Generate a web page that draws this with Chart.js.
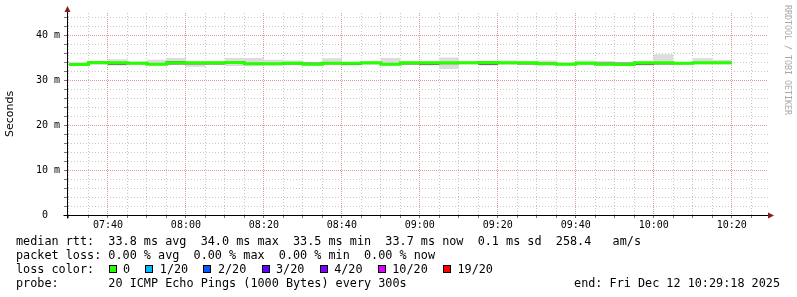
<!DOCTYPE html>
<html>
<head>
<meta charset="utf-8">
<title>smokeping</title>
<script src="https://cdn.jsdelivr.net/npm/chart.js@4.4.1/dist/chart.umd.min.js"></script>
<style>
  body { margin: 0; background: #fff; }
  #wrap { position: relative; width: 797px; height: 297px; overflow: hidden; }
  #chart { position: absolute; left: 0; top: 0; }
  .txt {
    position: absolute;
    font-family: "DejaVu Sans Mono", monospace;
    font-size: 11.8px;
    line-height: 14px;
    white-space: pre;
    color: #000;
  }
  #lossRow { position: absolute; left: 92.5px; top: 0; display: flex; align-items: center; height: 14px; }
  .box { display: inline-block; width: 8px; height: 8px; box-sizing: border-box; border: 1px solid #000; margin-right: 6.5px; }
  .lbl { margin-right: 15.2px; }
  #mark {
    position: absolute; left: 783px; top: 5px;
    writing-mode: vertical-rl;
    font-family: "DejaVu Sans Mono", monospace;
    font-size: 8.3px; line-height: 9px;
    color: #a8a8a8; white-space: pre;
  }
</style>
</head>
<body>
<div id="wrap">
  <canvas id="chart" width="797" height="297"></canvas>
  <div id="mark">RRDTOOL / TOBI OETIKER</div>
  <div class="txt" style="left:16px;top:234px">median rtt:  33.8 ms avg  34.0 ms max  33.5 ms min  33.7 ms now  0.1 ms sd  258.4   am/s</div>
  <div class="txt" style="left:16px;top:248px">packet loss: 0.00 % avg  0.00 % max  0.00 % min  0.00 % now</div>
  <div class="txt" style="left:16px;top:262px;width:700px">loss color:<div id="lossRow"></div></div>
  <div class="txt" style="left:16px;top:276px">probe:       20 ICMP Echo Pings (1000 Bytes) every 300s</div>
  <div class="txt" style="right:17px;top:276px">end: Fri Dec 12 10:29:18 2025</div>
</div>
<script>
// graph window
const windowStart = '07:29:30';
const windowEnd = '10:29:18';

// 5 minute steps, each value holds until the next step
const stepStart = [
  '07:30', '07:35', '07:40', '07:45', '07:50', '07:55',
  '08:00', '08:05', '08:10', '08:15', '08:20', '08:25',
  '08:30', '08:35', '08:40', '08:45', '08:50', '08:55',
  '09:00', '09:05', '09:10', '09:15', '09:20', '09:25',
  '09:30', '09:35', '09:40', '09:45', '09:50', '09:55',
  '10:00', '10:05', '10:10', '10:15'
];
const lastStepEnd = '10:20';

// median rtt (ms)
const median = [
  33.5, 34.0, 33.9, 33.8, 33.6, 33.9,
  33.9, 33.9, 34.0, 33.7, 33.7, 33.8,
  33.6, 33.8, 33.8, 33.9, 33.6, 33.9,
  33.9, 33.9, 33.9, 34.0, 33.9, 33.9,
  33.7, 33.6, 33.8, 33.6, 33.5, 33.9,
  33.9, 33.8, 33.9, 33.9
];
// smoke: slowest / fastest ping (ms)
const smokeMax = [
  34.1, 34.2, 34.7, 34.2, 34.6, 35.0,
  34.2, 34.3, 35.0, 35.0, 34.6, 34.4,
  34.0, 34.9, 34.1, 34.2, 35.0, 34.2,
  34.2, 35.1, 34.2, 34.3, 34.4, 34.2,
  34.4, 34.0, 34.4, 34.3, 34.0, 34.2,
  35.8, 34.1, 34.9, 34.6
];
const smokeMin = [
  33.2, 33.4, 33.3, 33.5, 33.3, 33.4,
  33.0, 33.4, 33.2, 33.2, 33.3, 33.4,
  33.3, 33.4, 33.3, 33.4, 33.3, 33.4,
  33.3, 32.5, 33.5, 33.3, 33.4, 33.4,
  33.4, 33.3, 33.4, 33.3, 33.3, 33.3,
  33.4, 33.4, 33.5, 33.5
];
// dense part of the smoke (ms)
const coreHi = [
  33.8, 34.1, 34.0, 33.9, 33.8, 34.3,
  34.0, 34.0, 34.1, 33.9, 33.8, 33.9,
  34.0, 34.0, 33.9, 34.0, 33.8, 34.0,
  34.0, 34.1, 34.0, 34.1, 34.0, 34.0,
  34.0, 33.8, 33.9, 34.0, 34.0, 34.0,
  34.0, 33.9, 34.0, 34.0
];
const coreLo = [
  33.4, 33.8, 33.4, 33.6, 33.5, 33.5,
  33.5, 33.5, 33.8, 33.5, 33.4, 33.5,
  33.5, 33.6, 33.4, 33.7, 33.5, 33.5,
  33.4, 33.6, 33.7, 33.4, 33.7, 33.5,
  33.6, 33.5, 33.6, 33.5, 33.4, 33.4,
  33.5, 33.6, 33.7, 33.7
];

const xLabelTimes = ['07:40', '08:00', '08:20', '08:40', '09:00', '09:20', '09:40', '10:00', '10:20'];
const yTickValues = [0, 10, 20, 30, 40];
const yTickText = ['0  ', '10 m', '20 m', '30 m', '40 m'];

const lossLabels = ['0', '1/20', '2/20', '3/20', '4/20', '10/20', '19/20'];
const lossColors = ['#26ff00', '#00b8ff', '#0059ff', '#5e00ff', '#7e00ff', '#dd00ff', '#ff0000'];

// loss color legend row
const row = document.getElementById('lossRow');
lossLabels.forEach((l, i) => {
  const b = document.createElement('span');
  b.className = 'box';
  b.style.background = lossColors[i];
  const t = document.createElement('span');
  t.className = 'lbl';
  t.textContent = l;
  row.appendChild(b);
  row.appendChild(t);
});

function toMin(s) {
  const p = s.split(':').map(Number);
  return p[0] * 60 + p[1] + (p[2] || 0) / 60;
}
function fmt(v) {
  const h = Math.floor(v / 60), m = Math.round(v - h * 60);
  return String(h).padStart(2, '0') + ':' + String(m).padStart(2, '0');
}

const X_MIN = toMin(windowStart);
const X_MAX = toMin(windowEnd);

function steps(values) {
  const pts = stepStart.map((t, i) => ({ x: Math.max(toMin(t), X_MIN), y: values[i] }));
  pts.push({ x: toMin(lastStepEnd), y: values[values.length - 1] });
  return pts;
}

const minorGrid = '#c8c8c8';
const majorGrid = '#e49a9a';
const isMajorX = c => c.tick && xLabelTimes.includes(fmt(c.tick.value));
const isMajorY = c => c.tick && yTickValues.includes(c.tick.value);

// axis line extensions + arrow heads like rrdtool
const axisArrows = {
  id: 'axisArrows',
  afterDraw(chart) {
    const { ctx, chartArea: a } = chart;
    const l = Math.round(a.left) + 0.5, b = Math.round(a.bottom) + 0.5;
    ctx.save();
    ctx.strokeStyle = '#000';
    ctx.lineWidth = 1;
    ctx.beginPath();
    ctx.moveTo(l, b + 3);
    ctx.lineTo(l, a.top - 3);
    ctx.moveTo(l - 4, b);
    ctx.lineTo(a.right + 2, b);
    ctx.stroke();
    ctx.fillStyle = '#8b1a1a';
    ctx.beginPath();
    ctx.moveTo(l, a.top - 7);
    ctx.lineTo(l - 3, a.top - 1);
    ctx.lineTo(l + 3, a.top - 1);
    ctx.closePath();
    ctx.fill();
    ctx.beginPath();
    ctx.moveTo(a.right + 6, b);
    ctx.lineTo(a.right, b - 3);
    ctx.lineTo(a.right, b + 3);
    ctx.closePath();
    ctx.fill();
    ctx.restore();
  }
};

Chart.defaults.font.family = '"DejaVu Sans Mono", monospace';
Chart.defaults.font.size = 10;
Chart.defaults.color = '#000';

const band = { borderWidth: 0, borderColor: 'rgba(0,0,0,0)', pointRadius: 0, stepped: true };

new Chart(document.getElementById('chart').getContext('2d'), {
  type: 'line',
  data: {
    datasets: [
      { label: 'median', data: steps(median), borderColor: lossColors[0], borderWidth: 3,
        pointRadius: 0, stepped: true, fill: false },
      Object.assign({ label: 'core hi', data: steps(coreHi), fill: '+1', backgroundColor: '#6f6f6f' }, band),
      Object.assign({ label: 'core lo', data: steps(coreLo), fill: false }, band),
      Object.assign({ label: 'max', data: steps(smokeMax), fill: '+1', backgroundColor: '#dcdcdc' }, band),
      Object.assign({ label: 'min', data: steps(smokeMin), fill: false }, band)
    ]
  },
  options: {
    responsive: false,
    animation: false,
    devicePixelRatio: 1,
    layout: { padding: { top: 13, right: 29, left: 0, bottom: 0 } },
    plugins: { legend: { display: false }, tooltip: { enabled: false } },
    scales: {
      x: {
        type: 'linear',
        min: X_MIN,
        max: X_MAX,
        afterFit: s => { s.height = 82; },
        afterBuildTicks: s => {
          const t = [];
          for (let v = Math.ceil(X_MIN / 5) * 5; v <= X_MAX; v += 5) t.push({ value: v });
          s.ticks = t;
        },
        ticks: {
          autoSkip: false, maxRotation: 0, padding: 1,
          callback: v => xLabelTimes.includes(fmt(v)) ? fmt(v) : ''
        },
        grid: {
          color: c => isMajorX(c) ? majorGrid : minorGrid,
          tickLength: 3,
          tickColor: '#777'
        },
        border: { color: '#000', dash: c => isMajorX(c) ? [1, 1] : [1, 2] }
      },
      y: {
        min: 0,
        max: 45,
        afterFit: s => { s.width = 67; },
        afterBuildTicks: s => {
          const t = [];
          for (let v = 0; v <= 44; v += 2) t.push({ value: v });
          s.ticks = t;
        },
        ticks: {
          autoSkip: false, padding: 4,
          callback: v => {
            const i = yTickValues.indexOf(v);
            return i >= 0 ? yTickText[i] : '';
          }
        },
        grid: {
          color: c => isMajorY(c) ? majorGrid : minorGrid,
          tickLength: 3,
          tickColor: '#777'
        },
        border: { color: '#000', dash: c => isMajorY(c) ? [1, 1] : [1, 2] },
        title: {
          display: true,
          text: 'Seconds',
          font: { family: '"DejaVu Sans", sans-serif', size: 11 },
          padding: { top: 4, bottom: 0 }
        }
      }
    }
  },
  plugins: [axisArrows]
});
</script>
</body>
</html>
